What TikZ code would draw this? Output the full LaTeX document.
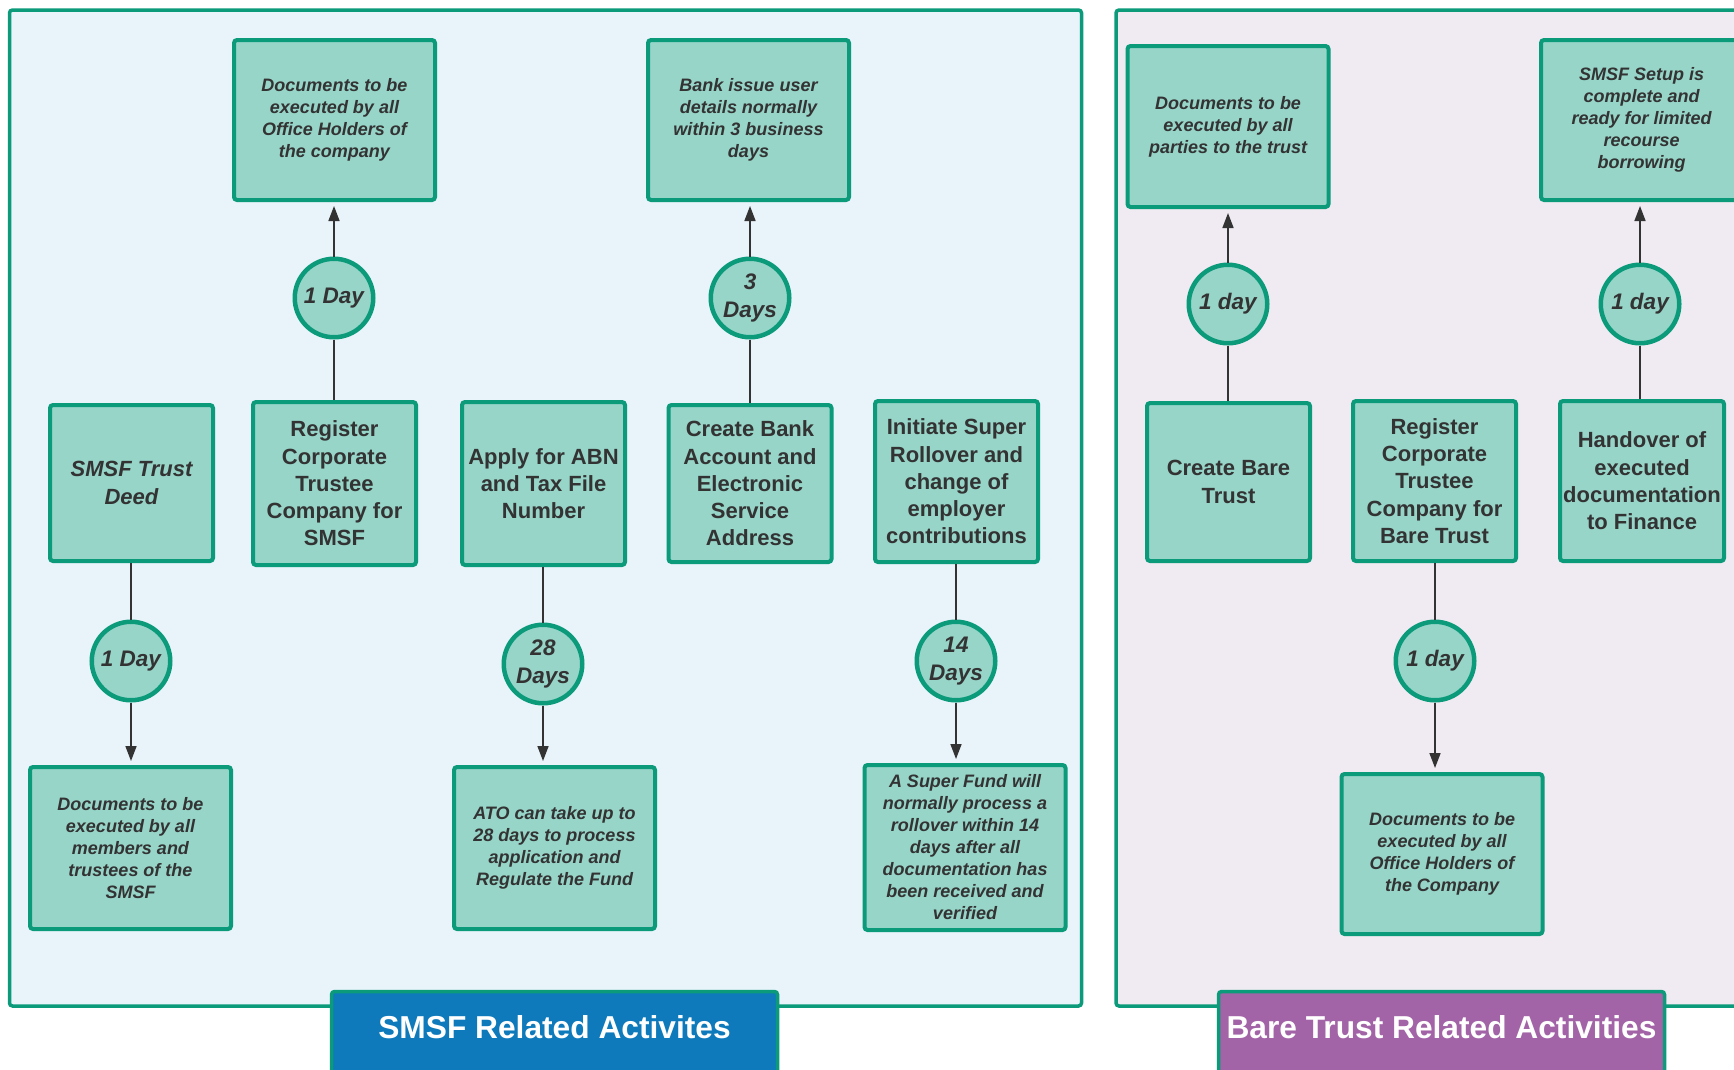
\documentclass[tikz,border=0pt]{standalone}
\usepackage{fontspec}
\setmainfont{Liberation Sans}
\usetikzlibrary{arrows.meta, positioning}
\definecolor{tealline}{HTML}{0B9A7A}
\definecolor{tealfill}{HTML}{97D5C9}
\definecolor{smsfback}{HTML}{E8F3FA}
\definecolor{bareback}{HTML}{F0EBF2}
\definecolor{smsfblue}{HTML}{0E7ABB}
\definecolor{barepurple}{HTML}{A264A6}
\definecolor{inkgray}{HTML}{333333}

\tikzset{
  panel/.style={draw=tealline, line width=3.5pt, rounded corners=3pt},
  banner/.style={text=white, font=\fontsize{31.7}{36}\selectfont\bfseries},
  task/.style={draw=tealline, fill=tealfill, line width=4pt, rounded corners=3pt, inner sep=0pt,
    minimum width=163pt, align=center, text=inkgray, font=\fontsize{22}{27.3}\selectfont\bfseries},
  note/.style={draw=tealline, fill=tealfill, line width=4pt, rounded corners=3pt, inner sep=0pt,
    minimum width=201pt, minimum height=160pt, align=center, text=inkgray,
    font=\fontsize{18}{22}\selectfont\bfseries\itshape},
  timer/.style={circle, draw=tealline, fill=tealfill, line width=4.5pt, inner sep=0pt,
    minimum size=78.5pt, align=center, text=inkgray, font=\fontsize{22.5}{27.7}\selectfont\bfseries\itshape},
  link/.style={draw=inkgray, line width=1.6pt},
  flow/.style={link, -{Triangle[length=15pt,width=11pt]}, shorten >=4pt}
}

\begin{document}
\begin{tikzpicture}[x=1pt, y=-1pt]
    \useasboundingbox (0,0) rectangle (1734,1069);
    \clip (0,0) rectangle (1734,1069);

    % the two activity panels
    \draw[panel, fill=smsfback] (9.5,10) rectangle (1081.5,1006);
    \draw[panel, fill=bareback] (1116,10) rectangle (1780,1006);
    \draw[panel, fill=smsfblue] (331.5,991.5) rectangle (777.5,1110);
    \draw[panel, fill=barepurple] (1218.5,991.5) rectangle (1664.5,1110);
    \node[banner] (smsftitle) at (554.5,1027) {SMSF Related Activites};
    \node[banner] (baretitle) at (1441.5,1027) {Bare Trust Related Activities};

    % top row
    \node[note] (offco) at (334.5,120) {Documents to be\\executed by all\\Office Holders of\\the company};
    \node[note] (bankid) at (748.5,120) {Bank issue user\\details normally\\within 3 business\\days};
    \node[note, minimum height=161pt] (parties) at (1228,126.5) {Documents to be\\executed by all\\parties to the trust};
    \node[note] (ready) at (1641.5,120) {SMSF Setup is\\complete and\\ready for limited\\recourse\\borrowing};

    % upper timers
    \node[timer] (dayone) at (334,298) {1 Day};
    \node[timer] (daythree) at (750,298) {3\\Days};
    \node[timer] (bareday) at (1228,304) {1 day};
    \node[timer] (readyday) at (1640,304) {1 day};

    % activities
    \node[task, minimum height=156pt, font=\fontsize{22}{27.3}\selectfont\bfseries\itshape] (deed) at (131.5,483) {SMSF Trust\\Deed};
    \node[task, minimum height=163pt] (corp) at (334.5,483.5) {Register\\Corporate\\Trustee\\Company for\\SMSF};
    \node[task, minimum height=163pt] (abn) at (543.5,483.5) {Apply for ABN\\and Tax File\\Number};
    \node[task, minimum height=157pt] (bank) at (750,483.5) {Create Bank\\Account and\\Electronic\\Service\\Address};
    \node[task, minimum height=161pt] (rollover) at (956.5,481.5) {Initiate Super\\Rollover and\\change of\\employer\\contributions};
    \node[task, minimum height=158pt] (bare) at (1228.5,482) {Create Bare\\Trust};
    \node[task, minimum height=160pt] (corpbare) at (1434.5,481) {Register\\Corporate\\Trustee\\Company for\\Bare Trust};
    \node[task, minimum height=160pt, minimum width=164pt] (handover) at (1642,481) {Handover of\\executed\\documentation\\to Finance};

    % lower timers
    \node[timer] (deedday) at (131,661) {1 Day};
    \node[timer] (abnday) at (543,664) {28\\Days};
    \node[timer] (rollday) at (956,661) {14\\Days};
    \node[timer] (corpday) at (1435,661) {1 day};

    % bottom row
    \node[note, minimum height=162pt] (members) at (130.5,848) {Documents to be\\executed by all\\members and\\trustees of the\\SMSF};
    \node[note, minimum height=162pt] (ato) at (554.5,848) {ATO can take up to\\28 days to process\\application and\\Regulate the Fund};
    \node[note, minimum height=165pt] (superfund) at (965,847.5) {A Super Fund will\\normally process a\\rollover within 14\\days after all\\documentation has\\been received and\\verified};
    \node[note] (offcobare) at (1442,854) {Documents to be\\executed by all\\Office Holders of\\the Company};

    % connectors
    \draw[link] (dayone) -- (dayone |- corp.north);
    \draw[link] (daythree) -- (daythree |- bank.north);
    \draw[link] (bareday) -- (bareday |- bare.north);
    \draw[link] (readyday) -- (readyday |- handover.north);
    \draw[link] (deedday) -- (deedday |- deed.south);
    \draw[link] (abnday) -- (abnday |- abn.south);
    \draw[link] (rollday) -- (rollday |- rollover.south);
    \draw[link] (corpday) -- (corpday |- corpbare.south);
    \draw[flow] (dayone) -- (dayone |- offco.south);
    \draw[flow] (daythree) -- (daythree |- bankid.south);
    \draw[flow] (bareday) -- (bareday |- parties.south);
    \draw[flow] (readyday) -- (readyday |- ready.south);
    \draw[flow] (deedday) -- (deedday |- members.north);
    \draw[flow] (abnday) -- (abnday |- ato.north);
    \draw[flow] (rollday) -- (rollday |- superfund.north);
    \draw[flow] (corpday) -- (corpday |- offcobare.north);
\end{tikzpicture}
\end{document}
